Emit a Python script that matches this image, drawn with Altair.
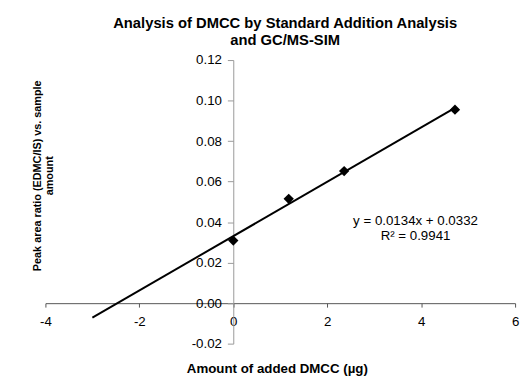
import altair as alt
import pandas as pd

# ---- data ----
added = [0.0, 1.18, 2.36, 4.72]
ratio = [0.0309, 0.0515, 0.0652, 0.0955]
fit_extent = [-3.0, 4.72]
ann_x = [3.88, 3.88]
ann_y = [0.0405, 0.0333]
ann_text = ["y = 0.0134x + 0.0332", "R² = 0.9941"]
x_ticks = [-4, -2, 0, 2, 4, 6]
y_ticks = [-0.02, 0.0, 0.02, 0.04, 0.06, 0.08, 0.10, 0.12]
title_lines = ["Analysis of DMCC by Standard Addition Analysis", "and GC/MS-SIM"]
x_title = "Amount of added DMCC (µg)"
y_title = ["Peak area ratio (EDMC/IS) vs. sample", "amount"]

FONT = "Liberation Sans"
W, H = 477, 288

pts = pd.DataFrame({"x": added, "y": ratio})
ann = pd.DataFrame({"x": ann_x, "y": ann_y, "t": ann_text})

xs = alt.Scale(domain=[-4, 6], nice=False, zero=False)
ys = alt.Scale(domain=[-0.02, 0.12], nice=False, zero=False)

x_axis = alt.Axis(
    values=x_ticks, format="d", offset=-41.1, grid=False,
    domainColor="#555555", tickColor="#555555", tickSize=4,
    labelPadding=8, labelFont=FONT, labelFontSize=13.5, labelColor="black",
    labelFlush=False, labelOverlap=False,
    labelExpr="replace(datum.label, '\u2212', '-')",
    title=x_title, titleFont=FONT, titleFontSize=13.5, titleFontWeight="bold",
    titleColor="black", titleX=235, titleY=70, titleBaseline="alphabetic",
)
y_axis = alt.Axis(
    values=y_ticks, format=".2f", offset=-190.8, grid=False,
    domainColor="#999999", tickColor="#999999", tickSize=6,
    labelPadding=6, labelFont=FONT, labelFontSize=13.5, labelColor="black",
    labelFlush=False, labelOverlap=False,
    labelExpr="replace(datum.label, '\u2212', '-')",
    title=y_title, titleFont=FONT, titleFontSize=11, titleFontWeight="bold",
    titleColor="black", titleX=-194, titleY=117, titleLineHeight=12.5,
)

enc = dict(
    x=alt.X("x:Q", scale=xs, axis=x_axis),
    y=alt.Y("y:Q", scale=ys, axis=y_axis),
)

line = (
    alt.Chart(pts)
    .transform_regression("x", "y", extent=fit_extent)
    .mark_line(color="black", strokeWidth=2)
    .encode(**enc)
)
points = (
    alt.Chart(pts)
    .mark_point(shape="diamond", filled=True, size=110, color="black", opacity=1)
    .encode(**enc)
)
label = (
    alt.Chart(ann)
    .mark_text(font=FONT, fontSize=13.5, color="black", align="center", baseline="middle")
    .encode(text="t:N", **enc)
)

chart = (
    alt.layer(line, points, label)
    .properties(
        width=W, height=H,
        title=alt.TitleParams(
            title_lines, font=FONT, fontSize=15, fontWeight="bold", color="black",
            anchor="middle", dx=5, dy=-1, lineHeight=17.7,
        ),
        autosize=alt.AutoSizeParams(type="none"),
        padding={"left": 38, "top": 50, "right": 6, "bottom": 31},
    )
    .configure_view(stroke=None)
)

chart.save("out.html", embed_options={"renderer": "svg", "actions": False})
